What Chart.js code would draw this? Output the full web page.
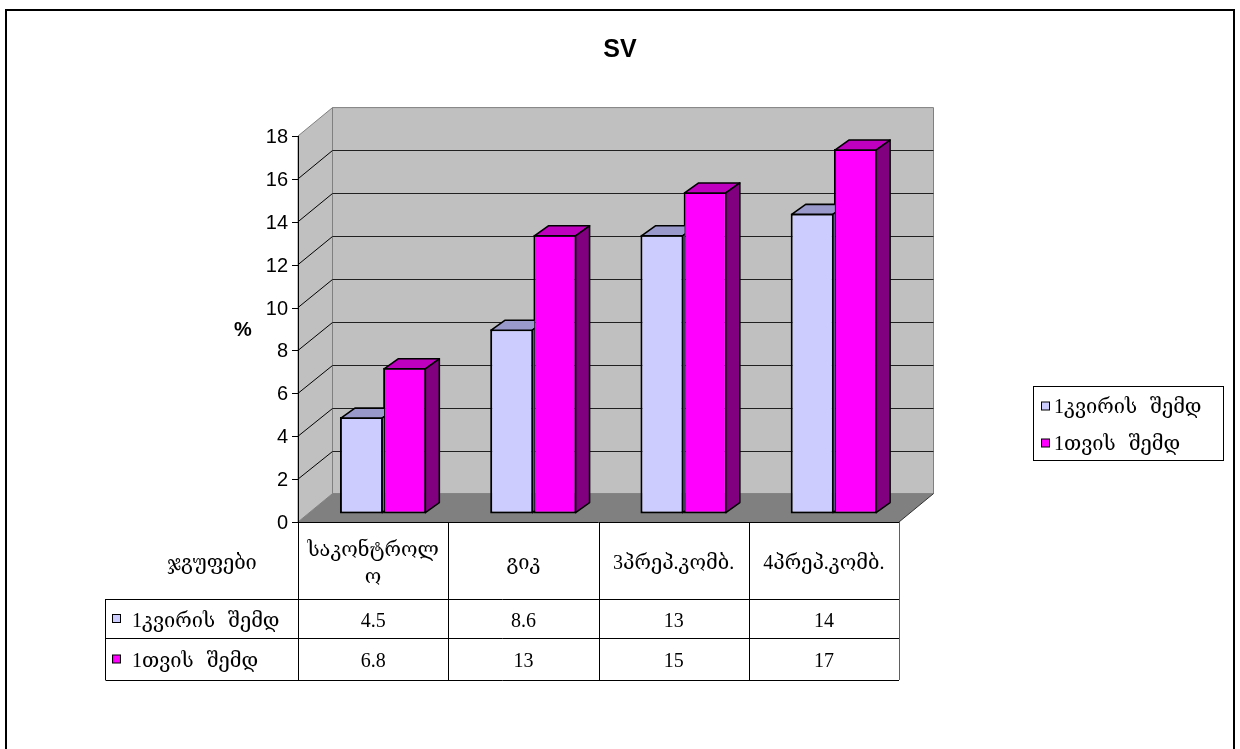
<!DOCTYPE html>
<html>
<head>
<meta charset="utf-8">
<title>SV</title>
<script src="https://cdn.jsdelivr.net/npm/chart.js@4.4.1/dist/chart.umd.min.js"></script>
<style>
  body { margin: 0; background: #fff; }
  canvas { display: block; }
</style>
</head>
<body>
<canvas id="sv-chart" width="1240" height="749"></canvas>
<script>
const categories = [['საკონტროლ', 'ო'], 'გიკ', '3პრეპ.კომბ.', '4პრეპ.კომბ.'];
const seriesNames = ['1კვირის შემდ', '1თვის შემდ'];
const weekValues = [4.5, 8.6, 13, 14];
const monthValues = [6.8, 13, 15, 17];
const yMax = 18;
const yStep = 2;
const groupLabel = 'ჯგუფები';
const chartTitle = 'SV';
const axisTitle = '%';

// front / top / side face colours for each series
const seriesColors = [
    { front: '#ccccff', top: '#9999cc', side: '#666699' },
    { front: '#ff00ff', top: '#bf00bf', side: '#800080' }
];

const WALL = { dx: 34.5, dy: -28.4 };     // how far the back wall sits behind the axis
const BAR_SHIFT = { dx: 10, dy: -8.4 };   // bars stand a little way into the floor
const BAR_DEPTH = { dx: 14, dy: -10 };    // thickness of each bar

const serif = "'Liberation Serif', 'DejaVu Serif', serif";
const sans = "'Liberation Sans', Arial, sans-serif";
const tableFont = '20px ' + serif;

function poly(ctx, pts, fill, stroke, width) {
    ctx.beginPath();
    ctx.moveTo(pts[0][0], pts[0][1]);
    for (let i = 1; i < pts.length; i++) ctx.lineTo(pts[i][0], pts[i][1]);
    ctx.closePath();
    if (fill) { ctx.fillStyle = fill; ctx.fill(); }
    if (stroke) {
        ctx.strokeStyle = stroke;
        ctx.lineWidth = width || 1;
        ctx.lineJoin = 'round';
        ctx.stroke();
    }
}

function line(ctx, x1, y1, x2, y2, color) {
    ctx.beginPath();
    ctx.moveTo(x1, y1);
    ctx.lineTo(x2, y2);
    ctx.strokeStyle = color || '#000';
    ctx.lineWidth = 1;
    ctx.stroke();
}

function legendSwatch(ctx, x, cy, color) {
    ctx.fillStyle = color;
    ctx.fillRect(x, cy - 4, 8, 8);
    ctx.strokeStyle = '#000';
    ctx.lineWidth = 1;
    ctx.strokeRect(x, cy - 4, 8, 8);
}

// walls, floor, gridlines and the value axis
const backdropPlugin = {
    id: 'backdrop',
    beforeDraw(chart) {
        const { ctx, chartArea: a, scales: { y } } = chart;
        const y0 = y.getPixelForValue(0);
        const yTop = y.getPixelForValue(yMax);
        const bx = a.left + WALL.dx;
        ctx.save();

        ctx.strokeStyle = '#000';
        ctx.lineWidth = 2;
        ctx.strokeRect(6, 10, 1228, 800);

        ctx.fillStyle = '#000';
        ctx.font = 'bold 25px ' + sans;
        ctx.textAlign = 'center';
        ctx.textBaseline = 'middle';
        ctx.fillText(chartTitle, 620, 50);

        // side wall, back wall, floor
        poly(ctx, [[a.left, y0], [bx, y0 + WALL.dy], [bx, yTop + WALL.dy], [a.left, yTop]], '#c0c0c0', '#808080');
        poly(ctx, [[bx, yTop + WALL.dy], [a.right + WALL.dx, yTop + WALL.dy], [a.right + WALL.dx, y0 + WALL.dy], [bx, y0 + WALL.dy]], '#c0c0c0', '#808080');
        poly(ctx, [[a.left, y0], [a.right, y0], [a.right + WALL.dx, y0 + WALL.dy], [bx, y0 + WALL.dy]], '#808080', null);
        line(ctx, a.right, y0, a.right + WALL.dx, y0 + WALL.dy, '#303030');

        for (let v = yStep; v < yMax; v += yStep) {
            const py = y.getPixelForValue(v);
            const backY = Math.round(py + WALL.dy) + 0.5;
            line(ctx, a.left, py, bx, backY, '#000');
            line(ctx, bx, backY, a.right + WALL.dx, backY, '#202020');
        }

        // value axis with ticks
        line(ctx, a.left + 0.5, y0, a.left + 0.5, yTop, '#000');
        ctx.font = '20px ' + sans;
        ctx.textAlign = 'right';
        ctx.fillStyle = '#000';
        for (let v = 0; v <= yMax; v += yStep) {
            const py = Math.round(y.getPixelForValue(v)) + 0.5;
            line(ctx, a.left - 6, py, a.left, py, '#000');
            ctx.fillText(String(v), a.left - 10, py + 1);
        }
        line(ctx, a.left, y0 + 0.5, a.right, y0 + 0.5, '#000');

        ctx.font = 'bold 20px ' + sans;
        ctx.textAlign = 'center';
        ctx.fillText(axisTitle, 243, 330);
        ctx.restore();
    },
    beforeDatasetsDraw(chart) {
        chart.ctx.save();
        chart.ctx.translate(BAR_SHIFT.dx, BAR_SHIFT.dy);
    },
    afterDatasetDraw(chart, args) {
        // top and right faces of each bar, hidden behind the front of the bar beside it
        const ctx = chart.ctx;
        const col = seriesColors[args.index];
        ctx.save();
        ctx.beginPath();
        ctx.rect(-2000, -2000, 6000, 6000);
        chart.data.datasets.forEach((ds, j) => {
            if (j <= args.index) return;
            chart.getDatasetMeta(j).data.forEach(o => {
                ctx.rect(o.x - o.width / 2 + 1, o.y + 1, o.width - 2, o.base - o.y - 2);
            });
        });
        ctx.clip('evenodd');
        args.meta.data.forEach(bar => {
            const l = bar.x - bar.width / 2 + 1;
            const r = bar.x + bar.width / 2 - 1;
            const t = bar.y + 1;
            const b = bar.base - 1;
            poly(ctx, [[l, t], [r, t], [r + BAR_DEPTH.dx, t + BAR_DEPTH.dy], [l + BAR_DEPTH.dx, t + BAR_DEPTH.dy]], col.top, '#000', 1.6);
            poly(ctx, [[r, t], [r + BAR_DEPTH.dx, t + BAR_DEPTH.dy], [r + BAR_DEPTH.dx, b + BAR_DEPTH.dy], [r, b]], col.side, '#000', 1.6);
        });
        ctx.restore();
    },
    afterDatasetsDraw(chart) {
        chart.ctx.restore();
    },
    afterDraw(chart) {
        const { ctx, chartArea: a, scales: { x } } = chart;
        const n = categories.length;
        const w = (a.right - a.left) / n;
        const rows = [522, 599, 638, 680];
        const tableLeft = 105.5;
        const series = [weekValues, monthValues];
        ctx.save();

        // data table under the floor
        for (let i = 0; i <= n; i++) {
            const cx = Math.round(a.left + i * w) + 0.5;
            line(ctx, cx, rows[0], cx, rows[3], i === n ? '#606060' : '#000');
        }
        line(ctx, tableLeft, rows[1], tableLeft, rows[3], '#000');
        for (let r = 1; r < rows.length; r++) {
            line(ctx, tableLeft, rows[r] + 0.5, a.right, rows[r] + 0.5, '#000');
        }

        ctx.fillStyle = '#000';
        ctx.textAlign = 'center';
        ctx.textBaseline = 'middle';
        ctx.font = tableFont;
        ctx.wordSpacing = '8px';
        ctx.fillText(groupLabel, 212, 564);
        categories.forEach((label, i) => {
            const cx = x.getPixelForValue(i);
            const lines = Array.isArray(label) ? label : [label];
            const start = 564 - (lines.length - 1) * 13;
            lines.forEach((txt, k) => ctx.fillText(txt, cx, start + k * 27));
            series.forEach((vals, s) => {
                ctx.fillText(String(vals[i]), cx, (rows[s + 1] + rows[s + 2]) / 2 + 3);
            });
        });

        seriesNames.forEach((name, s) => {
            const cy = (rows[s + 1] + rows[s + 2]) / 2;
            legendSwatch(ctx, 112.5, cy, seriesColors[s].front);
            ctx.fillStyle = '#000';
            ctx.textAlign = 'left';
            ctx.fillText(name, 132, cy + 3);
        });

        // legend box
        ctx.strokeStyle = '#000';
        ctx.lineWidth = 1;
        ctx.strokeRect(1033.5, 386.5, 190, 74);
        seriesNames.forEach((name, s) => {
            const cy = 406 + s * 37;
            legendSwatch(ctx, 1041.5, cy, seriesColors[s].front);
            ctx.fillStyle = '#000';
            ctx.textAlign = 'left';
            ctx.fillText(name, 1054, cy + 2);
        });
        ctx.restore();
    }
};

new Chart(document.getElementById('sv-chart'), {
    type: 'bar',
    data: {
        labels: categories,
        datasets: [
            {
                label: seriesNames[0],
                data: weekValues,
                backgroundColor: seriesColors[0].front,
                borderColor: '#000',
                borderWidth: 2,
                borderSkipped: false
            },
            {
                label: seriesNames[1],
                data: monthValues,
                backgroundColor: seriesColors[1].front,
                borderColor: '#000',
                borderWidth: 2,
                borderSkipped: false
            }
        ]
    },
    options: {
        responsive: false,
        animation: false,
        events: [],
        layout: { padding: { left: 298, right: 341, top: 136, bottom: 227 } },
        datasets: { bar: { categoryPercentage: 0.575, barPercentage: 1, clip: false } },
        scales: {
            x: { type: 'category', display: false, offset: true },
            y: { min: 0, max: yMax, ticks: { stepSize: yStep }, display: false }
        },
        plugins: {
            legend: { display: false },
            tooltip: { enabled: false },
            title: { display: false }
        }
    },
    plugins: [backdropPlugin]
});
</script>
</body>
</html>
